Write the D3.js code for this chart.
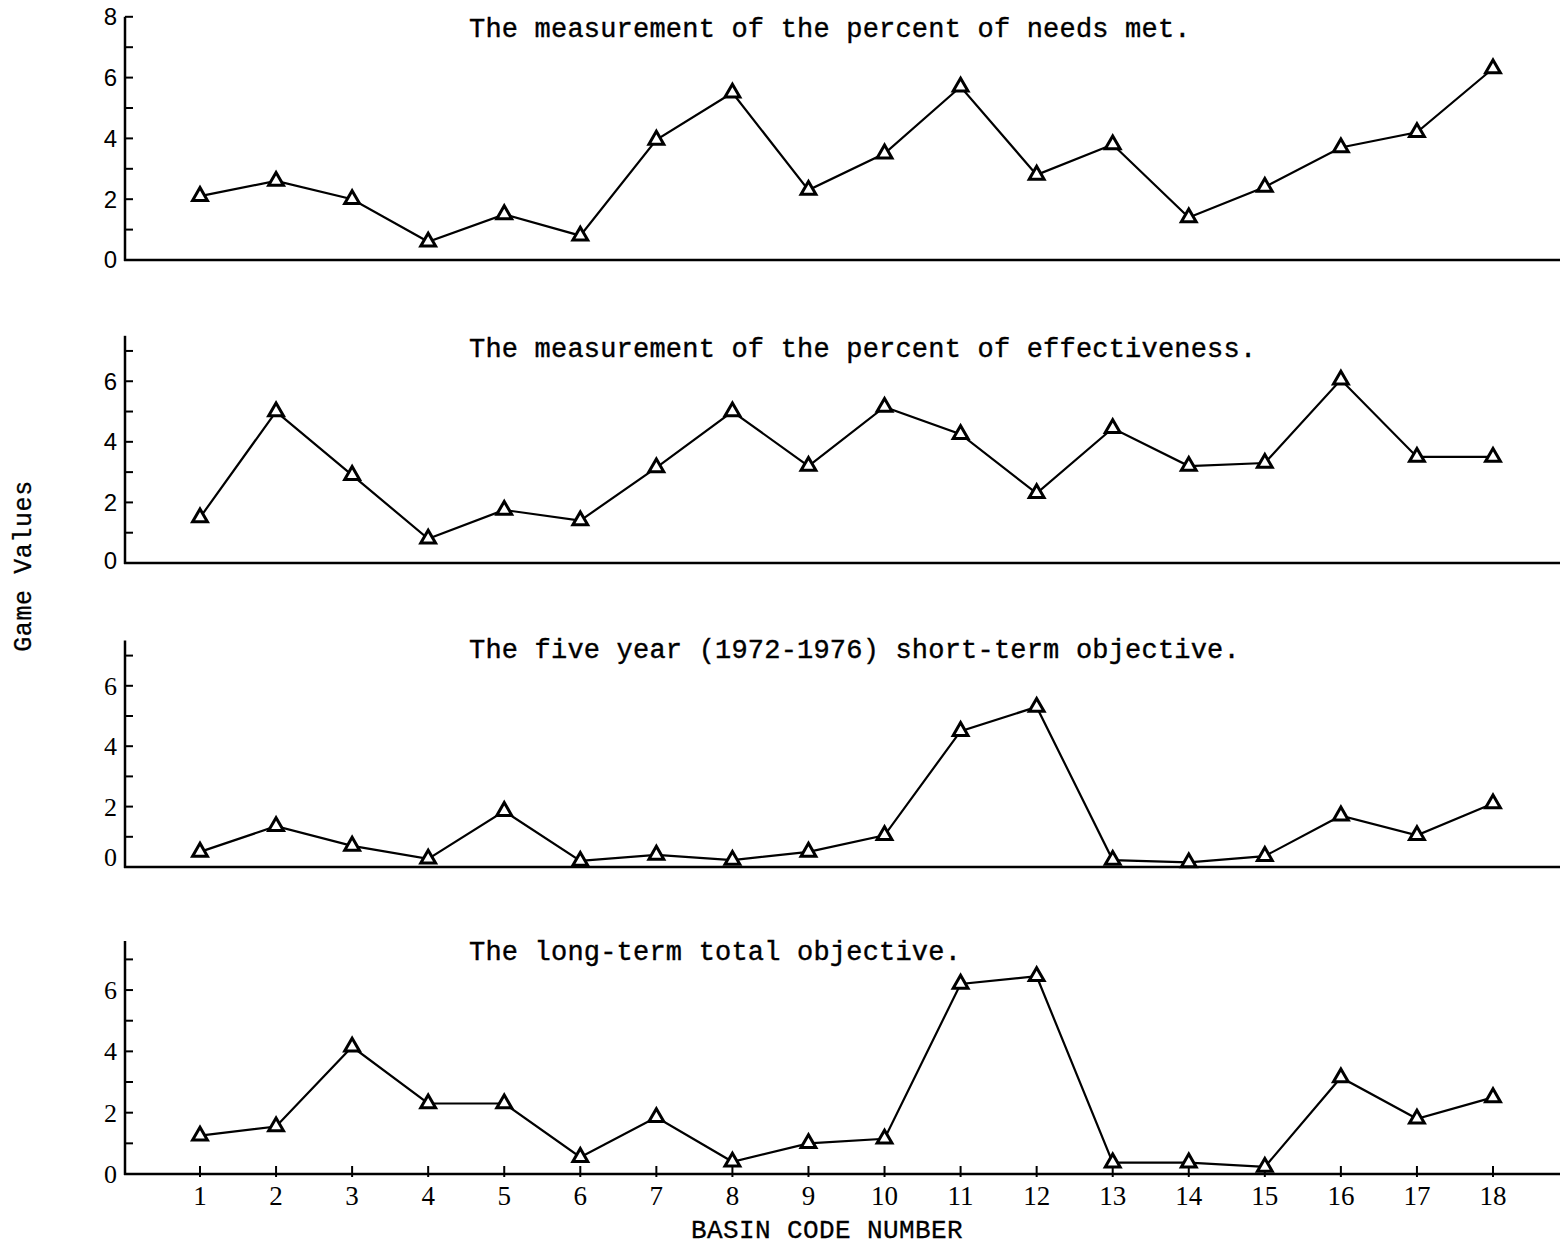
<!DOCTYPE html>
<html>
<head>
<meta charset="utf-8">
<script src="https://cdn.jsdelivr.net/npm/d3@7"></script>
<style>
  html, body { margin: 0; padding: 0; background: #fff; }
  svg { display: block; }
</style>
</head>
<body>
<svg id="chart" width="1560" height="1251"></svg>
<script>
// ---- data ----
const basins = [1,2,3,4,5,6,7,8,9,10,11,12,13,14,15,16,17,18];
const titles = [
  "The measurement of the percent of needs met.",
  "The measurement of  the percent of effectiveness.",
  "The five year (1972-1976) short-term objective.",
  "The long-term total objective."
];
const needsMet      = [2.1, 2.6, 2.0, 0.6, 1.5, 0.8, 3.95, 5.5, 2.3, 3.5, 5.7, 2.8, 3.8, 1.4, 2.4, 3.7, 4.2, 6.3];
const effectiveness = [1.5, 5.0, 2.9, 0.8, 1.75, 1.4, 3.15, 5.0, 3.2, 5.15, 4.25, 2.3, 4.45, 3.2, 3.3, 6.05, 3.5, 3.5];
const shortTerm     = [0.5, 1.35, 0.7, 0.27, 1.85, 0.2, 0.4, 0.23, 0.5, 1.05, 4.5, 5.3, 0.23, 0.15, 0.36, 1.7, 1.05, 2.1];
const longTerm      = [1.25, 1.55, 4.15, 2.3, 2.3, 0.55, 1.85, 0.4, 1.0, 1.15, 6.2, 6.45, 0.37, 0.37, 0.23, 3.15, 1.8, 2.5];
const yLabel = "Game Values";
const xLabel = "BASIN CODE NUMBER";

// ---- layout ----
const svg = d3.select("#chart");
const axisX = 125;
const x = d3.scaleLinear().domain([1, 18]).range([200, 1493]);
const mono = "'Liberation Mono', 'DejaVu Sans Mono', monospace";

const panels = [
  { data: needsMet,      top: 8,   y0: 260,  yTop: 16.8,  ticks: d3.range(0, 9), font: "'Liberation Sans', Arial, sans-serif", fsz: 24, titleY: 37,  xTicks: false, zeroDy: 0 },
  { data: effectiveness, top: 7.5, y0: 563,  yTop: 335.8, ticks: d3.range(0, 8), font: "'Liberation Sans', Arial, sans-serif", fsz: 24, titleY: 357, xTicks: false, zeroDy: -2 },
  { data: shortTerm,     top: 7.5, y0: 867,  yTop: 640.5, ticks: d3.range(0, 8), font: "'Liberation Serif', 'Times New Roman', serif", fsz: 26, titleY: 658, xTicks: false, zeroDy: -10 },
  { data: longTerm,      top: 7.6, y0: 1174, yTop: 941,   ticks: d3.range(0, 8), font: "'Liberation Serif', 'Times New Roman', serif", fsz: 26, titleY: 960, xTicks: true,  zeroDy: 0 }
];

panels.forEach((p, i) => {
  const y = d3.scaleLinear().domain([0, p.top]).range([p.y0, p.yTop]);
  const g = svg.append("g");

  g.append("line")
    .attr("x1", axisX).attr("x2", axisX)
    .attr("y1", y(p.top)).attr("y2", p.y0 + 1)
    .attr("stroke", "#000").attr("stroke-width", 2.5);

  g.append("line")
    .attr("x1", axisX - 1).attr("x2", 1560)
    .attr("y1", p.y0).attr("y2", p.y0)
    .attr("stroke", "#000").attr("stroke-width", 2.5);

  g.selectAll(".yt").data(p.ticks.filter(t => t > 0)).enter().append("line")
    .attr("x1", axisX).attr("x2", axisX + 8)
    .attr("y1", d => y(d)).attr("y2", d => y(d))
    .attr("stroke", "#000").attr("stroke-width", 2);

  g.selectAll(".yl").data(p.ticks.filter(t => t % 2 === 0)).enter().append("text")
    .attr("x", axisX - 8)
    .attr("y", d => y(d) + (d === 0 ? p.zeroDy : 0))
    .attr("dy", "0.35em")
    .attr("text-anchor", "end")
    .attr("font-family", p.font)
    .attr("font-size", p.fsz)
    .attr("fill", "#000")
    .text(d => String(d));

  if (p.xTicks) {
    g.selectAll(".xt").data(basins).enter().append("line")
      .attr("x1", d => x(d)).attr("x2", d => x(d))
      .attr("y1", p.y0 - 8).attr("y2", p.y0 + 3)
      .attr("stroke", "#000").attr("stroke-width", 2);
    g.selectAll(".xl").data(basins).enter().append("text")
      .attr("x", d => x(d))
      .attr("y", p.y0 + 31)
      .attr("text-anchor", "middle")
      .attr("font-family", "'Liberation Serif', 'Times New Roman', serif")
      .attr("font-size", 27)
      .attr("fill", "#000")
      .text(d => String(d));
  }

  g.append("text")
    .attr("x", 469).attr("y", p.titleY)
    .attr("font-family", mono)
    .attr("font-size", 27)
    .attr("letter-spacing", 0.2)
    .attr("fill", "#000")
    .attr("stroke", "#000").attr("stroke-width", 0.4)
    .text(titles[i]);

  const line = d3.line().x((d, j) => x(basins[j])).y(d => y(d));
  g.append("path")
    .datum(p.data)
    .attr("d", line)
    .attr("fill", "none")
    .attr("stroke", "#000")
    .attr("stroke-width", 2.2);

  g.selectAll(".m").data(p.data).enter().append("path")
    .attr("d", d3.symbol(d3.symbolTriangle, 95)())
    .attr("transform", (d, j) => `translate(${x(basins[j])},${y(d)})`)
    .attr("fill", "#fff")
    .attr("stroke", "#000")
    .attr("stroke-width", 3);
});

svg.append("text")
  .attr("transform", "translate(31,566) rotate(-90)")
  .attr("text-anchor", "middle")
  .attr("font-family", mono)
  .attr("font-size", 25)
  .attr("letter-spacing", 0.6)
  .attr("fill", "#000")
  .attr("stroke", "#000").attr("stroke-width", 0.3)
  .text(yLabel);

svg.append("text")
  .attr("x", 827).attr("y", 1238)
  .attr("text-anchor", "middle")
  .attr("font-family", mono)
  .attr("font-size", 26)
  .attr("letter-spacing", 0.4)
  .attr("fill", "#000")
  .attr("stroke", "#000").attr("stroke-width", 0.3)
  .text(xLabel);
</script>
</body>
</html>
